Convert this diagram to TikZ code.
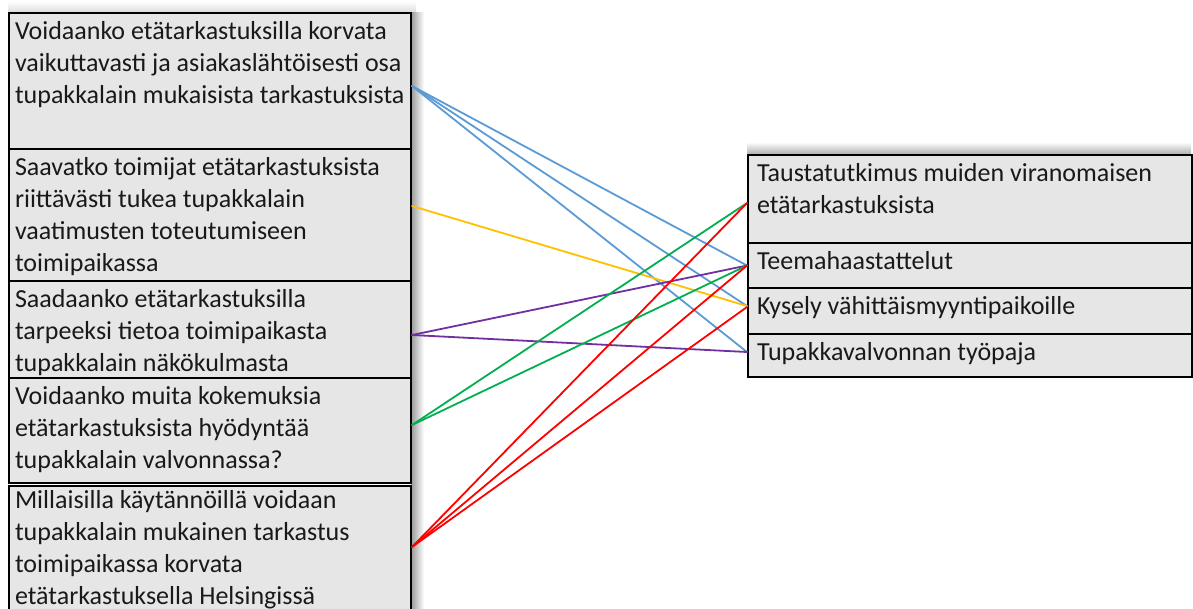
\documentclass[tikz,border=0pt]{standalone}
\usepackage{fontspec}
\setmainfont{Carlito}
\usepackage{tikz}
\usetikzlibrary{positioning}
\usepackage{xcolor}
\definecolor{boxgray}{RGB}{230,230,230}
\definecolor{textgray}{RGB}{25,25,25}
\definecolor{linkblue}{RGB}{91,155,213}
\definecolor{linkyellow}{RGB}{255,192,0}
\definecolor{linkpurple}{RGB}{112,48,160}
\definecolor{linkgreen}{RGB}{0,176,80}
\definecolor{linkred}{RGB}{255,0,0}
\newcommand{\qtext}[3]{\parbox[c][#1][t]{#2}{\begin{tabular}[t]{@{}l@{}}#3\end{tabular}}}

\begin{document}
\begin{tikzpicture}[
    x=1pt, y=-1pt,
    qbox/.style={rectangle, draw=black, line width=2pt, fill=boxgray, anchor=north west,
                 inner xsep=6pt, inner ysep=4pt, text=textgray,
                 font=\fontsize{26pt}{32pt}\selectfont},
    mbox/.style={qbox, inner xsep=9pt},
    link/.style={line width=1.8pt, line cap=round},
    bluelink/.style={link, color=linkblue},
    yellowlink/.style={link, color=linkyellow},
    purplelink/.style={link, color=linkpurple},
    greenlink/.style={link, color=linkgreen},
    redlink/.style={link, color=linkred}
]
\useasboundingbox (0,0) rectangle (1193,608);

% Soft shadows behind the two columns
\shade[top color=white, bottom color=black!12] (8,1) rectangle (416,11);
\shade[left color=black!40, right color=white] (411,12) rectangle (424,608);
\shade[top color=white, bottom color=black!28] (747,142) rectangle (1191,153);

% Research questions (left column)
\node[qbox] (q1) at (8,12) {\qtext{128pt}{390pt}{Voidaanko etätarkastuksilla korvata\\ vaikuttavasti ja asiakaslähtöisesti osa\\ tupakkalain mukaisista tarkastuksista}};
\node[qbox] (q2) at (8,148) {\qtext{124pt}{390pt}{Saavatko toimijat etätarkastuksista\\ riittävästi tukea tupakkalain\\ vaatimusten toteutumiseen\\ toimipaikassa}};
\node[qbox] (q3) at (8,280) {\qtext{89pt}{390pt}{Saadaanko etätarkastuksilla\\ tarpeeksi tietoa toimipaikasta\\ tupakkalain näkökulmasta}};
\node[qbox] (q4) at (8,377) {\qtext{97pt}{390pt}{Voidaanko muita kokemuksia\\ etätarkastuksista hyödyntää\\ tupakkalain valvonnassa?}};
\node[qbox, inner ysep=0pt] (q5) at (8,485) {\qtext{132pt}{390pt}{Millaisilla käytännöillä voidaan\\ tupakkalain mukainen tarkastus\\ toimipaikassa korvata\\ etätarkastuksella Helsingissä}};

% Methods (right column)
\node[mbox] (m1) at (747,154) {\qtext{80pt}{426pt}{Taustatutkimus muiden viranomaisen\\ etätarkastuksista}};
\node[mbox] (m2) at (747,242) {\qtext{37pt}{426pt}{Teemahaastattelut}};
\node[mbox] (m3) at (747,287) {\qtext{38pt}{426pt}{Kysely vähittäismyyntipaikoille}};
\node[mbox] (m4) at (747,333) {\qtext{35pt}{426pt}{Tupakkavalvonnan työpaja}};

% Links question -> method
\draw[bluelink] ([yshift=-5pt]q1.east) -- (m2.west);
\draw[bluelink] ([yshift=-5pt]q1.east) -- ([yshift=5pt]m3.west);
\draw[bluelink] ([yshift=-5pt]q1.east) -- ([yshift=3.5pt]m4.west);

\draw[yellowlink] ([yshift=9pt]q2.east) -- ([yshift=5pt]m3.west);

\draw[purplelink] ([yshift=-5.5pt]q3.east) -- (m2.west);
\draw[purplelink] ([yshift=-5.5pt]q3.east) -- ([yshift=3.5pt]m4.west);

\draw[greenlink] ([yshift=5.5pt]q4.east) -- ([yshift=-4pt]m1.west);
\draw[greenlink] ([yshift=5.5pt]q4.east) -- (m2.west);

\draw[redlink] ([yshift=5pt]q5.east) -- ([yshift=-4pt]m1.west);
\draw[redlink] ([yshift=5pt]q5.east) -- (m2.west);
\draw[redlink] ([yshift=5pt]q5.east) -- ([yshift=4pt]m3.west);

\end{tikzpicture}
\end{document}
